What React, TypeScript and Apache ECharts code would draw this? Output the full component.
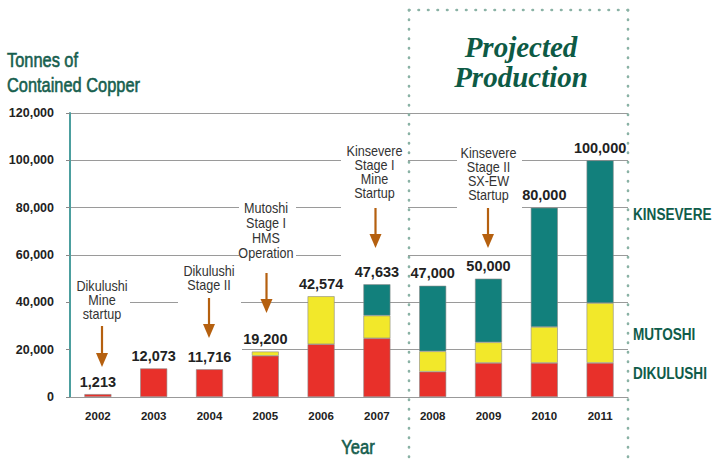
import React, { useEffect, useRef } from "react";
import * as echarts from "echarts";

const years = ["2002", "2003", "2004", "2005", "2006", "2007", "2008", "2009", "2010", "2011"];
const dikulushi = [1213, 12073, 11716, 17400, 22300, 24800, 10700, 14400, 14400, 14400];
const mutoshi = [null, null, null, 1800, 20274, 9600, 8600, 8700, 15200, 25300];
const kinsevere = [null, null, null, null, null, 13233, 27700, 26900, 50400, 60300];
const totals = [1213, 12073, 11716, 19200, 42574, 47633, 47000, 50000, 80000, 100000];
const yTicks = [0, 20000, 40000, 60000, 80000, 100000, 120000];

const SANS = '"Liberation Sans", Arial, sans-serif';
const GREEN = "#0f5c4a";
const ARROW = "#b5600f";

function arrow(x: number, top: number, tip: number) {
  return [
    { type: "line", z: 100, shape: { x1: x, y1: top, x2: x, y2: tip - 12 }, style: { stroke: ARROW, lineWidth: 2.2 } },
    { type: "polygon", z: 100, shape: { points: [[x - 6, tip - 14], [x + 6, tip - 14], [x, tip]] }, style: { fill: ARROW } },
  ];
}

function narrowText(text: string, x: number, y: number, font: string, fill: string, align: string, lh: number, sx: number, thick = 0) {
  return {
    type: "text", z: 100, x, y, scaleX: sx,
    style: {
      text, x: 0, y: 0, textAlign: align, textVerticalAlign: "middle", font, fill, lineHeight: lh,
      stroke: thick ? fill : undefined, lineWidth: thick,
    },
  };
}

function note(text: string, x: number, y: number, lh: number) {
  return narrowText(text, x, y, `14px ${SANS}`, "#333", "center", lh, 0.9);
}

function whiteRect(x: number, y: number, w: number, h: number) {
  return { type: "rect", z: 1, shape: { x, y, width: w, height: h }, style: { fill: "#fff" } };
}

function dotted(x1: number, y1: number, x2: number, y2: number) {
  return {
    type: "line", z: 100, shape: { x1, y1, x2, y2 },
    style: { stroke: "#8ab2a5", lineWidth: 2.6, lineDash: [0.5, 9], lineCap: "round" },
  };
}

export default function App() {
  const ref = useRef<HTMLDivElement>(null);
  useEffect(() => {
    if (!ref.current) return;
    const chart = echarts.init(ref.current, null, { renderer: "svg" });
    const barBase = { type: "bar", stack: "a", barWidth: 27, itemStyle: { borderColor: "#8a8a8a", borderWidth: 0.6 } };
    chart.setOption({
      animation: false,
      grid: { left: 70, right: 85, top: 113, bottom: 62, containLabel: false },
      xAxis: {
        type: "category",
        data: years,
        axisLine: { lineStyle: { color: "#999", width: 1 } },
        axisTick: { length: 4, lineStyle: { color: "#888" } },
        axisLabel: { margin: 13, fontFamily: SANS, fontWeight: "bold", fontSize: 11.5, color: "#222" },
      },
      yAxis: {
        type: "value",
        min: 0,
        max: yTicks[yTicks.length - 1],
        interval: yTicks[1] - yTicks[0],
        axisLine: { show: true, lineStyle: { color: "#4c9f9f", width: 2 } },
        axisTick: { show: true, length: 4, lineStyle: { color: "#888" } },
        splitLine: { lineStyle: { color: "#9a9a9a", width: 1 } },
        axisLabel: {
          margin: 16, fontFamily: SANS, fontWeight: "bold", fontSize: 12.5, color: "#222",
          formatter: (v: number) => v.toLocaleString("en-US"),
        },
      },
      series: [
        { ...barBase, name: "DIKULUSHI", data: dikulushi, itemStyle: { ...barBase.itemStyle, color: "#e8302a" } },
        { ...barBase, name: "MUTOSHI", data: mutoshi, itemStyle: { ...barBase.itemStyle, color: "#f2e82a" } },
        { ...barBase, name: "KINSEVERE", data: kinsevere, itemStyle: { ...barBase.itemStyle, color: "#12807c" } },
        {
          type: "bar", stack: "a", barWidth: 27, name: "total",
          data: totals.map(() => 0),
          itemStyle: { color: "transparent" },
          label: {
            show: true, position: "top", distance: 5,
            fontFamily: SANS, fontWeight: "bold", fontSize: 14.5, color: "#222",
            formatter: (p: any) => totals[p.dataIndex].toLocaleString("en-US"),
          },
        },
      ],
      graphic: [
        whiteRect(71, 276, 59, 96),
        whiteRect(178, 262, 63, 98),
        whiteRect(71, 344, 171, 12),
        whiteRect(239, 200, 57, 62),
        whiteRect(341, 145, 67, 117),
        whiteRect(457, 145, 65, 68),
        note("Dikulushi\nMine\nstartup", 102, 300.5, 14),
        note("Dikulushi\nStage II", 209, 278, 14),
        note("Mutoshi\nStage I\nHMS\nOperation", 266, 231, 15),
        note("Kinsevere\nStage I\nMine\nStartup", 374.5, 172.5, 14),
        note("Kinsevere\nStage II\nSX-EW\nStartup", 488.5, 174.5, 14),
        ...arrow(102, 326, 367),
        ...arrow(209, 298, 338),
        ...arrow(266.5, 273, 313),
        ...arrow(375.5, 208, 248),
        ...arrow(488, 208, 248),
        dotted(409, 10, 628, 10),
        dotted(409, 10, 409, 459),
        dotted(628, 10, 628, 459),
        {
          type: "text", z: 100, x: 521, y: 62,
          style: {
            text: "Projected\nProduction", textAlign: "center", textVerticalAlign: "middle",
            font: 'italic bold 29px "Liberation Serif", "DejaVu Serif", serif', fill: "#0d5a45", lineHeight: 30,
          },
        },
        narrowText("Tonnes of\nContained Copper", 7, 72, `20px ${SANS}`, "#165e4e", "left", 25, 0.82, 0.6),
        narrowText("Year", 358, 447.5, `19.5px ${SANS}`, "#165e4e", "center", 20, 0.85, 0.6),
        narrowText("KINSEVERE", 633, 214, `bold 17px ${SANS}`, GREEN, "left", 17, 0.8),
        narrowText("MUTOSHI", 633, 334, `bold 17px ${SANS}`, GREEN, "left", 17, 0.8),
        narrowText("DIKULUSHI", 633, 372.5, `bold 17px ${SANS}`, GREEN, "left", 17, 0.8),
      ],
    });
    return () => chart.dispose();
  }, []);
  return (
    <div
      ref={ref}
      style={{ position: "fixed", left: 0, top: 0, width: 713, height: 459, background: "#fff" }}
    />
  );
}
